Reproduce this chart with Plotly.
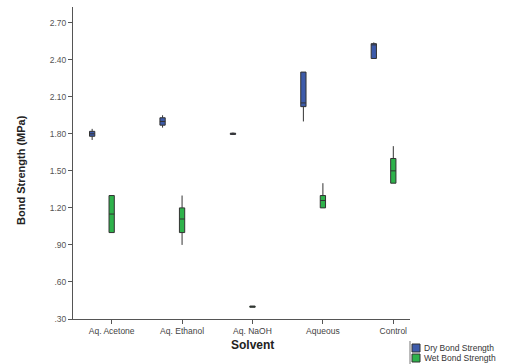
import plotly.graph_objects as go

categories = ["Aq. Acetone", "Aq. Ethanol", "Aq. NaOH", "Aqueous", "Control"]

dry_q1 = [1.78, 1.87, 1.795, 2.02, 2.41]
dry_median = [1.80, 1.90, 1.80, 2.05, 2.52]
dry_q3 = [1.82, 1.93, 1.805, 2.30, 2.53]
dry_lower = [1.75, 1.85, 1.79, 1.90, 2.41]
dry_upper = [1.84, 1.95, 1.81, 2.30, 2.54]

wet_q1 = [1.00, 1.00, 0.395, 1.20, 1.40]
wet_median = [1.15, 1.11, 0.40, 1.26, 1.50]
wet_q3 = [1.30, 1.20, 0.405, 1.30, 1.60]
wet_lower = [1.00, 0.90, 0.395, 1.20, 1.40]
wet_upper = [1.30, 1.30, 0.405, 1.40, 1.70]

y_ticks = [0.30, 0.60, 0.90, 1.20, 1.50, 1.80, 2.10, 2.40, 2.70]
y_tick_text = [".30", ".60", ".90", "1.20", "1.50", "1.80", "2.10", "2.40", "2.70"]

series_names = ["Dry Bond Strength", "Wet Bond Strength"]
series_colors = ["#3D5BAA", "#2EB24B"]

dry_offset = -0.277
idx = list(range(len(categories)))

fig = go.Figure()
fig.add_trace(go.Box(
    name=series_names[0],
    x=[i + dry_offset for i in idx],
    q1=dry_q1, median=dry_median, q3=dry_q3,
    lowerfence=dry_lower, upperfence=dry_upper,
    width=0.075, whiskerwidth=0,
    fillcolor=series_colors[0], line=dict(color="#333333", width=1),
    boxpoints=False, showlegend=False,
))
fig.add_trace(go.Box(
    name=series_names[1],
    x=idx,
    q1=wet_q1, median=wet_median, q3=wet_q3,
    lowerfence=wet_lower, upperfence=wet_upper,
    width=0.075, whiskerwidth=0,
    fillcolor=series_colors[1], line=dict(color="#333333", width=1),
    boxpoints=False, showlegend=False,
))

# paper-coordinate helpers (plot area: x 73..410 px, y 7..319 px)
def px_x(p):
    return (p - 73) / 337.0

def px_y(p):
    return (319 - p) / 312.0

annotations = [
    dict(text="<b>Bond Strength (MPa)</b>", xref="paper", yref="paper",
         x=px_x(21), y=px_y(170), textangle=-90, showarrow=False,
         font=dict(size=11, color="#222222"), xanchor="center", yanchor="middle"),
    dict(text="<b>Solvent</b>", xref="x", yref="paper",
         x=2, y=px_y(345), showarrow=False,
         font=dict(size=12, color="#222222"), xanchor="center", yanchor="middle"),
]
shapes = [
    dict(type="line", xref="paper", yref="paper", x0=px_x(410), x1=px_x(410),
         y0=px_y(341), y1=px_y(364), line=dict(color="#777777", width=1)),
]
for k, (nm, col) in enumerate(zip(series_names, series_colors)):
    cy = 348 + k * 10
    shapes.append(dict(type="rect", xref="paper", yref="paper",
                       x0=px_x(412), x1=px_x(420), y0=px_y(cy + 4), y1=px_y(cy - 4),
                       fillcolor=col, line=dict(color="#333333", width=1)))
    annotations.append(dict(text=nm, xref="paper", yref="paper",
                            x=px_x(422), y=px_y(cy), showarrow=False,
                            xanchor="left", yanchor="middle",
                            font=dict(size=8.5, color="#333333")))

fig.update_layout(
    width=508, height=364,
    margin=dict(l=73, r=98, t=7, b=45, autoexpand=False),
    paper_bgcolor="white", plot_bgcolor="white",
    font=dict(family="Liberation Sans, Arial, sans-serif", color="#333333"),
    showlegend=False,
    xaxis=dict(
        range=[-0.549, 4.237],
        tickmode="array", tickvals=idx, ticktext=categories,
        showline=True, linecolor="#555555", linewidth=1,
        ticks="outside", ticklen=4, tickcolor="#555555",
        showgrid=False, zeroline=False,
        tickfont=dict(size=8.5, color="#444444"),
    ),
    yaxis=dict(
        range=[0.30, 2.827],
        tickmode="array", tickvals=y_ticks, ticktext=y_tick_text,
        showline=True, linecolor="#555555", linewidth=1,
        ticks="outside", ticklen=4, tickcolor="#555555",
        showgrid=False, zeroline=False,
        tickfont=dict(size=8.5, color="#555555"),
    ),
    annotations=annotations,
    shapes=shapes,
)

fig.write_html("out.html")
